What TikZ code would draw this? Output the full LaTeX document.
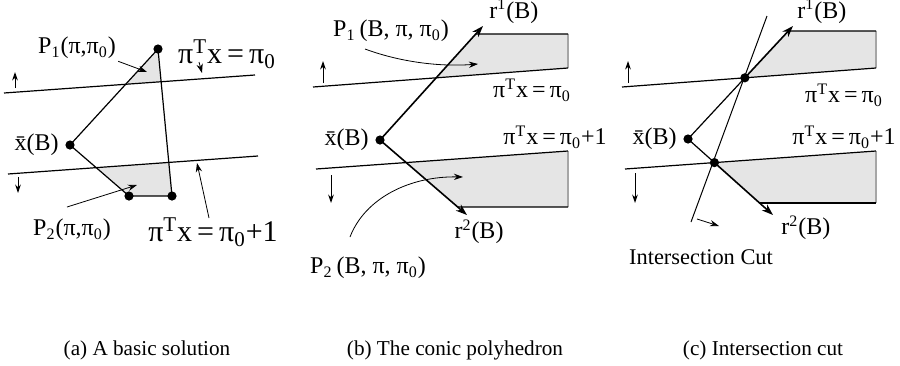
\documentclass[tikz,border=0pt]{standalone}
\usepackage{fontspec}
\setmainfont{Liberation Serif}
\usetikzlibrary{arrows.meta,positioning,calc}
\newcommand{\hplab}[1]{π\textsuperscript{T}x\,=\,π\textsubscript{0}#1}
\newcommand{\xbarB}{\={x}(B)}
\tikzset{
  dot/.style={circle, fill=black, inner sep=0pt, minimum size=4.6pt},
  hpl/.style={line width=0.6pt},
  edg/.style={line width=0.6pt},
  ray/.style={-{Stealth[length=2mm, width=1.4mm]}, line width=0.8pt},
  shd/.style={fill=gray!20},
  rim/.style={gray!70, line width=0.6pt},
  pnt/.style={-{Stealth[length=1.6mm, width=1.1mm]}, line width=0.4pt},
  sarr/.style={-{Stealth[length=1.5mm, width=1mm]}, line width=0.5pt},
  lab/.style={font=\fontsize{12}{14}\selectfont, inner sep=1pt},
  biglab/.style={font=\fontsize{15}{17}\selectfont, inner sep=1pt},
  capt/.style={font=\fontsize{10.6}{12}\selectfont},
}
\begin{document}
\begin{tikzpicture}[x=0.5pt, y=-0.5pt]
\useasboundingbox (0,0) rectangle (900,365);
%---- (a) a basic solution
\coordinate (aX) at (70,145); \coordinate (aT) at (158,49);
\coordinate (aBL) at (129,196); \coordinate (aBR) at (172,196);
\coordinate (aU1) at (4,93); \coordinate (aU2) at (255,75);
\coordinate (aL1) at (8,174); \coordinate (aL2) at (258,156);
\fill[shd] (aT) -- (intersection of aX--aT and aU1--aU2)
  -- (intersection of aT--aBR and aU1--aU2) -- cycle;
\fill[shd] (intersection of aX--aBL and aL1--aL2) -- (aBL) -- (aBR)
  -- (intersection of aT--aBR and aL1--aL2) -- cycle;
\draw[hpl] (aU1) -- (aU2);
\draw[hpl] (aL1) -- (aL2);
\draw[edg] (aX) -- (aT) -- (aBR) -- (aBL) -- cycle;
\foreach \p in {X,T,BL,BR} \node[dot] (aD\p) at (a\p) {};
\node[lab, left=2pt of aDX] (aXl) {\xbarB};
\node[lab] (aP1) at (77,48) {P\textsubscript{1}(π,π\textsubscript{0})};
\coordinate (aP1e) at (147,72);
\draw[pnt] (aP1.south east) -- (aP1e);
\node[lab] (aP2) at (72,230) {P\textsubscript{2}(π,π\textsubscript{0})};
\coordinate (aP2s) at (67,207); \coordinate (aP2e) at (137,185);
\draw[pnt] (aP2s) -- (aP2e);
\node[biglab] (aH0) at (227,54) {\hplab{}};
\coordinate (aH0s) at (199,62); \coordinate (aH0e) at (202,73);
\draw[pnt] (aH0s) -- (aH0e);
\node[biglab] (aH1) at (213,232) {\hplab{+1}};
\coordinate (aH1s) at (209,218); \coordinate (aH1e) at (197,163);
\draw[pnt] (aH1s) -- (aH1e);
\coordinate (aUp) at (15,88); \coordinate (aDn) at (18,177);
\draw[sarr] (aUp) -- ++(0,-16);
\draw[sarr] (aDn) -- ++(0,16);
\node[capt] (aCap) at (147,350) {(a) A basic solution};
%---- (b) the conic polyhedron
\coordinate (bX) at (380,140);
\coordinate (bR1) at (483,26); \coordinate (bR2) at (467,215);
\coordinate (bU1) at (313,87); \coordinate (bU2) at (568,68);
\coordinate (bL1) at (316,169); \coordinate (bL2) at (568,151);
\coordinate (bTL) at (400,34); \coordinate (bTR) at (568,34);
\coordinate (bBL) at (400,207); \coordinate (bBR) at (568,207);
\coordinate (bI1) at (intersection of bX--bR1 and bU1--bU2);
\coordinate (bJ1) at (intersection of bX--bR1 and bTL--bTR);
\coordinate (bI2) at (intersection of bX--bR2 and bL1--bL2);
\coordinate (bJ2) at (intersection of bX--bR2 and bBL--bBR);
\fill[shd] (bI1) -- (bJ1) -- (bTR) -- (bU2) -- cycle;
\fill[shd] (bI2) -- (bL2) -- (bBR) -- (bJ2) -- cycle;
\draw[rim] (bTR) -- (bU2);
\draw[rim] (bL2) -- (bBR);
\draw[edg] (bJ1) -- (bTR);
\draw[edg] (bJ2) -- (bBR);
\draw[hpl] (bU1) -- (bU2);
\draw[hpl] (bL1) -- (bL2);
\draw[ray] (bX) -- (bR1);
\draw[ray] (bX) -- (bR2);
\node[dot] (bDX) at (bX) {};
\node[lab, left=2pt of bDX] (bXl) {\xbarB};
\node[lab, above right=0pt and 2pt of bR1] (bR1l) {r\textsuperscript{1}(B)};
\node[lab, below=1pt of bR2, xshift=6pt] (bR2l) {r\textsuperscript{2}(B)};
\node[lab] (bP1) at (391,31) {P\textsubscript{1}\,(B, π, π\textsubscript{0})};
\coordinate (bP1s) at (365,49); \coordinate (bP1e) at (478,64);
\draw[pnt] (bP1s) .. controls (400,62) and (440,67) .. (bP1e);
\node[lab] (bP2) at (368,268) {P\textsubscript{2}\,(B, π, π\textsubscript{0})};
\coordinate (bP2s) at (350,237); \coordinate (bP2e) at (463,177);
\draw[pnt] (bP2s) .. controls (365,198) and (410,176) .. (bP2e);
\node[lab] (bH0) at (532,90) {\hplab{}};
\node[lab] (bH1) at (555,137) {\hplab{+1}};
\coordinate (bUp) at (323,83); \coordinate (bDn) at (331,175);
\draw[sarr] (bUp) -- ++(0,-22);
\draw[sarr] (bDn) -- ++(0,28);
\node[capt] (bCap) at (455,350) {(b) The conic polyhedron};
%---- (c) intersection cut
\coordinate (cX) at (688,139);
\coordinate (cU1) at (622,87); \coordinate (cU2) at (876,68);
\coordinate (cL1) at (625,169); \coordinate (cL2) at (876,151);
\coordinate (cR1) at (793,26); \coordinate (cR2) at (773,215);
\coordinate (cA) at (intersection of cX--cR1 and cU1--cU2);
\coordinate (cB) at (intersection of cX--cR2 and cL1--cL2);
\coordinate (cTL) at (700,31); \coordinate (cTR) at (876,31);
\coordinate (cBL) at (700,203); \coordinate (cBR) at (876,203);
\coordinate (cJ1) at (intersection of cX--cR1 and cTL--cTR);
\coordinate (cJ2) at (intersection of cX--cR2 and cBL--cBR);
\fill[shd] (cA) -- (cJ1) -- (cTR) -- (cU2) -- cycle;
\fill[shd] (cB) -- (cL2) -- (cBR) -- (cJ2) -- cycle;
\draw[rim] (cTR) -- (cU2);
\draw[rim] (cL2) -- (cBR);
\draw[edg] (cJ1) -- (cTR);
\draw[edg] (cJ2) -- (cBR);
\draw[hpl] (cU1) -- (cU2);
\draw[hpl] (cL1) -- (cL2);
\draw[edg] (cX) -- (cA);
\draw[edg] (cX) -- (cB);
\draw[ray] (cA) -- (cR1);
\draw[ray] (cB) -- (cR2);
\coordinate (cC1) at (691,222); \coordinate (cC2) at (767,16);
\draw[edg, line width=0.5pt] (cC1) -- (cC2);
\foreach \p in {X,A,B} \node[dot] (cD\p) at (c\p) {};
\node[lab, left=2pt of cDX] (cXl) {\xbarB};
\node[lab, above right=0pt and 1pt of cR1] (cR1l) {r\textsuperscript{1}(B)};
\node[lab, below right=-1pt and 3pt of cR2] (cR2l) {r\textsuperscript{2}(B)};
\node[lab] (cH0) at (844,95) {\hplab{}};
\node[lab] (cH1) at (844,137) {\hplab{+1}};
\node[lab, font=\fontsize{11.2}{13}\selectfont] (cCut) at (701,257) {Intersection Cut};
\coordinate (cCs) at (697,219); \coordinate (cCe) at (719,226);
\draw[pnt] (cCs) -- (cCe);
\coordinate (cUp) at (628,83); \coordinate (cDn) at (635,173);
\draw[sarr] (cUp) -- ++(0,-22);
\draw[sarr] (cDn) -- ++(0,30);
\node[capt] (cCap) at (763,350) {(c) Intersection cut};
\end{tikzpicture}
\end{document}
